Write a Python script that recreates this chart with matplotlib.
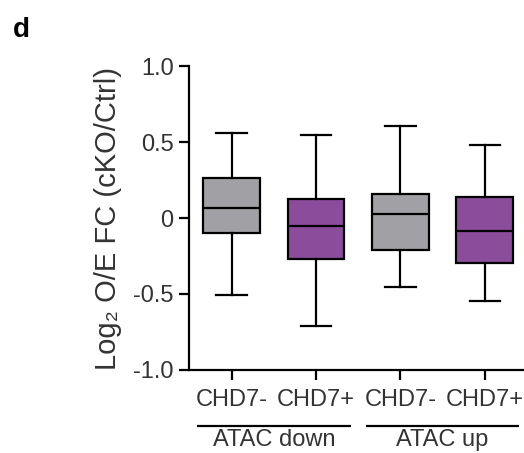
import matplotlib.pyplot as plt

plt.rcParams['font.family'] = ['Liberation Sans', 'DejaVu Sans']

# box stats
groups = ['CHD7-', 'CHD7+', 'CHD7-', 'CHD7+']
whislo = [-0.504, -0.708, -0.454, -0.543]
q1 = [-0.101, -0.272, -0.208, -0.294]
med = [0.063, -0.051, 0.024, -0.083]
q3 = [0.263, 0.127, 0.158, 0.138]
whishi = [0.557, 0.549, 0.608, 0.477]
colors = ['#A1A1A5', '#8B4C9B', '#A1A1A5', '#8B4C9B']
conditions = ['ATAC down', 'ATAC up']
yticks = [-1.0, -0.5, 0, 0.5, 1.0]
yticklabels = ['-1.0', '-0.5', '0', '0.5', '1.0']

txt = '#333333'
lw = 1.6
fs = 17

fig = plt.figure(figsize=(5.24, 4.53), dpi=100)
ax = fig.add_axes([189/524, 83/453, 335/524, 304/453])

stats = []
for i in range(len(groups)):
    stats.append(dict(whislo=whislo[i], q1=q1[i], med=med[i], q3=q3[i],
                      whishi=whishi[i], fliers=[], label=groups[i]))

bp = ax.bxp(stats, positions=range(len(groups)), widths=0.67, patch_artist=True,
            showfliers=False,
            boxprops=dict(linewidth=lw, edgecolor='black'),
            medianprops=dict(color='black', linewidth=lw),
            whiskerprops=dict(color='black', linewidth=lw),
            capprops=dict(color='black', linewidth=lw),
            capwidths=0.36)
for patch, c in zip(bp['boxes'], colors):
    patch.set_facecolor(c)

ax.set_xlim(-0.506, 3.466)
ax.set_ylim(-1.0, 1.0)
ax.set_yticks(yticks)
ax.set_yticklabels(yticklabels)
ax.spines['top'].set_visible(False)
ax.spines['right'].set_visible(False)
ax.spines['left'].set_linewidth(lw)
ax.spines['bottom'].set_linewidth(lw)
ax.tick_params(axis='both', direction='out', length=7, width=lw,
               labelsize=fs, labelcolor=txt, pad=4)
ax.tick_params(axis='x', pad=7)
ax.set_ylabel('Log₂ O/E FC (cKO/Ctrl)', fontsize=21, color=txt, labelpad=8)

# group brackets under the tick labels
for j, name in enumerate(conditions):
    x0 = 2*j - 0.41
    x1 = 2*j + 1.41
    ax.plot([x0, x1], [-1.37, -1.37], color='black', lw=lw, clip_on=False,
            solid_capstyle='butt')
    ax.text((x0 + x1)/2, -1.385, name, ha='center', va='top', fontsize=fs,
            color=txt, clip_on=False)

fig.text(13/524, 1 - 37/453, 'd', fontsize=20, fontweight='bold')

plt.savefig('out.png', dpi=100)
